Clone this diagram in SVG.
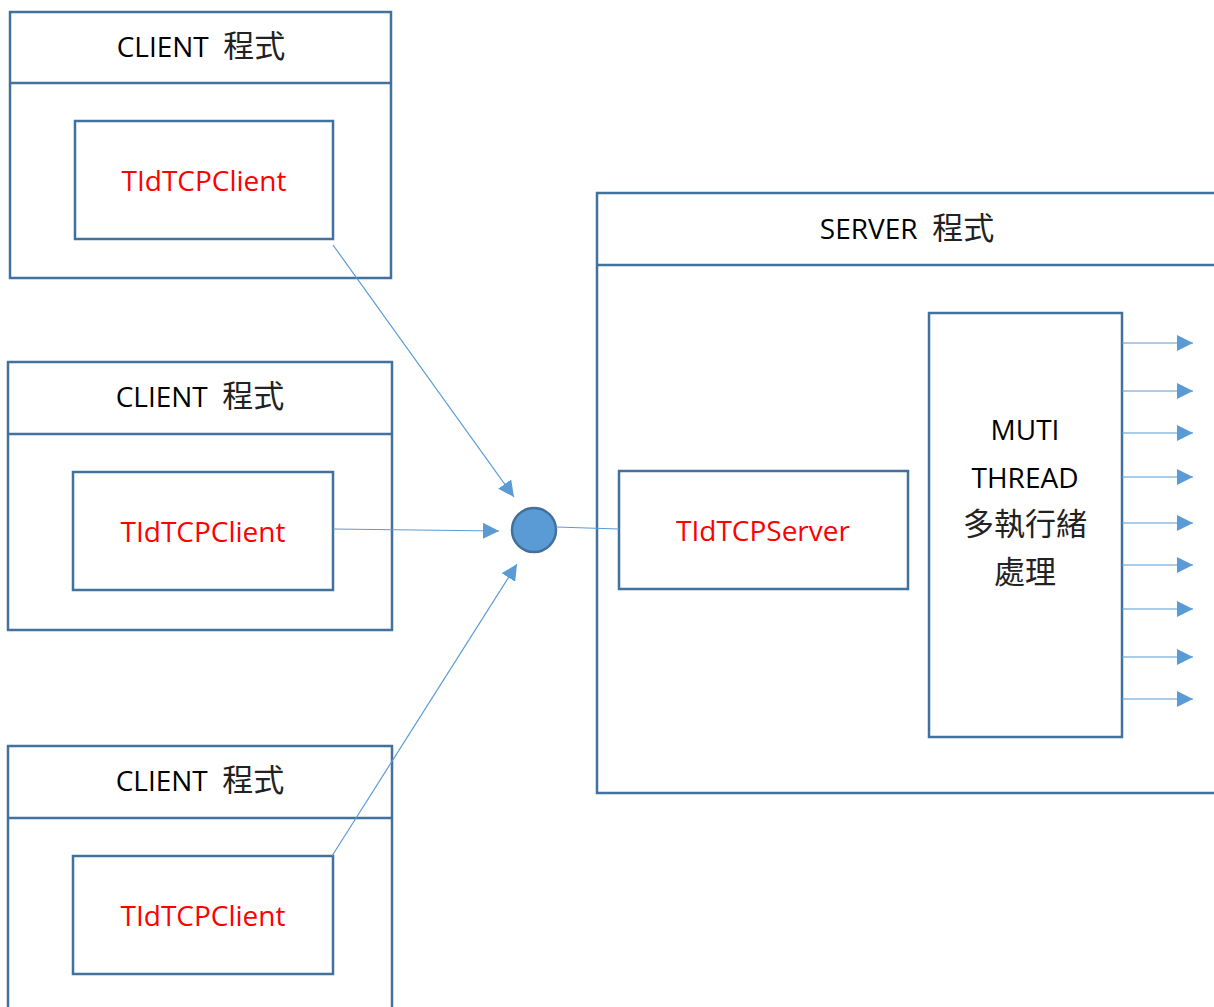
<svg xmlns="http://www.w3.org/2000/svg" width="1214" height="1007" viewBox="0 0 1214 1007">
<style>
.box{fill:#ffffff;stroke:#41719C;stroke-width:2.5}
.div{stroke:#41719C;stroke-width:2.5;fill:none}
.hd{font-family:"Open Sans","Noto Sans CJK TC",sans-serif;font-size:28px;fill:#000;text-anchor:middle;white-space:pre}
.red{font-family:"Open Sans","Noto Sans CJK TC",sans-serif;font-size:28px;fill:#FF0000;text-anchor:middle}
.blk{font-family:"Open Sans","Noto Sans CJK TC",sans-serif;font-size:28px;fill:#000;text-anchor:middle}
.cjk{font-family:"Noto Sans CJK TC",sans-serif;font-size:31px;fill:#222}
.con{stroke:#5B9BD5;stroke-width:1.2;fill:none}
.arr{stroke:#5B9BD5;stroke-width:1.2;fill:none;marker-end:url(#ah)}
</style>
<defs>
<marker id="ah" markerUnits="userSpaceOnUse" markerWidth="16" markerHeight="16" refX="16" refY="8" orient="auto" viewBox="0 0 16 16">
<path d="M0,0 L16,8 L0,16 Z" fill="#5B9BD5"/>
</marker>
</defs>
<rect width="1214" height="1007" fill="#ffffff"/>

<g id="client1">
<rect class="box" x="10" y="12" width="381" height="266"/>
<line class="div" x1="10" y1="83" x2="391" y2="83"/>
<text class="hd" x="201" y="57">CLIENT  <tspan class="cjk">程式</tspan></text>
<rect class="box" x="75" y="121" width="258" height="118"/>
<text class="red" x="204" y="191">TIdTCPClient</text>
</g>

<g id="client2">
<rect class="box" x="8" y="362" width="384" height="268"/>
<line class="div" x1="8" y1="434" x2="392" y2="434"/>
<text class="hd" x="200" y="407">CLIENT  <tspan class="cjk">程式</tspan></text>
<rect class="box" x="73" y="472" width="260" height="118"/>
<text class="red" x="203" y="542">TIdTCPClient</text>
</g>

<g id="client3">
<rect class="box" x="8" y="746" width="384" height="275"/>
<line class="div" x1="8" y1="818" x2="392" y2="818"/>
<text class="hd" x="200" y="791">CLIENT  <tspan class="cjk">程式</tspan></text>
<rect class="box" x="73" y="856" width="260" height="118"/>
<text class="red" x="203" y="926">TIdTCPClient</text>
</g>

<g id="server">
<rect class="box" x="597" y="193" width="640" height="600"/>
<line class="div" x1="597" y1="265" x2="1214" y2="265"/>
<text class="hd" x="907" y="239">SERVER  <tspan class="cjk">程式</tspan></text>
</g>

<g id="tcpserver">
<rect class="box" x="619" y="471" width="289" height="118"/>
<text class="red" x="763" y="541">TIdTCPServer</text>
</g>

<g id="thread">
<rect class="box" x="929" y="313" width="193" height="424"/>
<text class="blk" x="1025" y="440">MUTI</text>
<text class="blk" x="1025" y="488">THREAD</text>
<text class="blk" x="1025" y="535"><tspan class="cjk">多執行緒</tspan></text>
<text class="blk" x="1025" y="583"><tspan class="cjk">處理</tspan></text>
</g>

<g id="hub">
<circle cx="534" cy="530" r="22" fill="#5B9BD5" stroke="#41719C" stroke-width="2.5"/>
</g>

<g id="connectors">
<line class="arr" x1="333" y1="245" x2="514" y2="497"/>
<line class="arr" x1="333" y1="529" x2="499" y2="531"/>
<line class="arr" x1="332" y1="856" x2="517" y2="564"/>
<line class="con" x1="556" y1="527" x2="619" y2="529"/>
<line class="arr" x1="1122" y1="343" x2="1193" y2="343"/>
<line class="arr" x1="1122" y1="391" x2="1193" y2="391"/>
<line class="arr" x1="1122" y1="433" x2="1193" y2="433"/>
<line class="arr" x1="1122" y1="477" x2="1193" y2="477"/>
<line class="arr" x1="1122" y1="523" x2="1193" y2="523"/>
<line class="arr" x1="1122" y1="565" x2="1193" y2="565"/>
<line class="arr" x1="1122" y1="609" x2="1193" y2="609"/>
<line class="arr" x1="1122" y1="657" x2="1193" y2="657"/>
<line class="arr" x1="1122" y1="699" x2="1193" y2="699"/>
</g>
</svg>
